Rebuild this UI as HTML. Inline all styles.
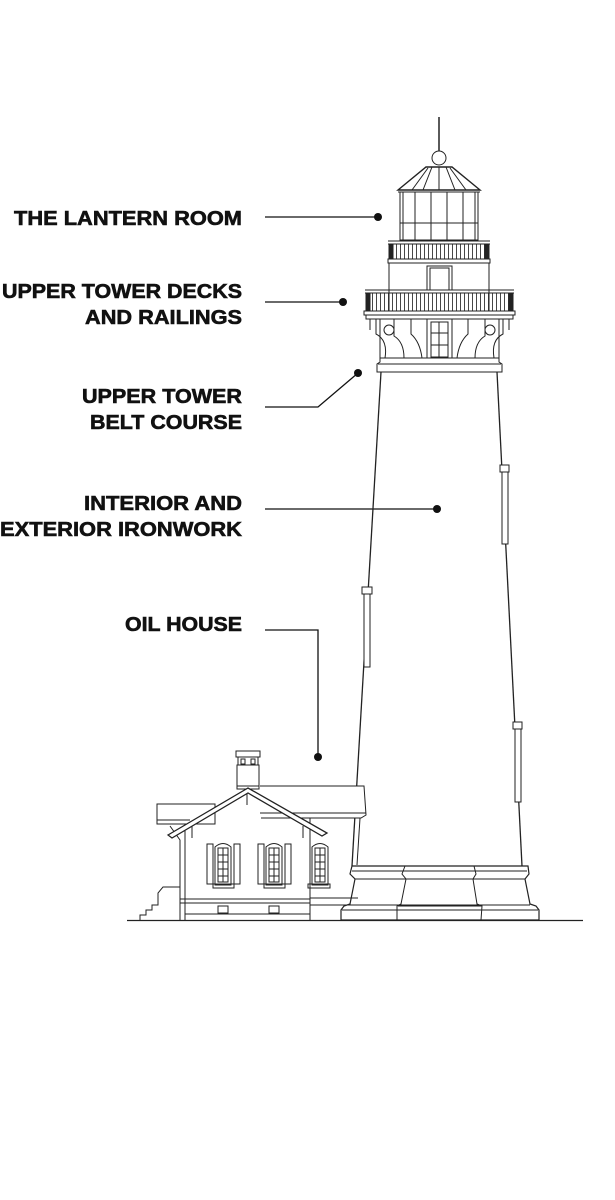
<!DOCTYPE html>
<html><head><meta charset="utf-8"><style>
html,body{margin:0;padding:0;background:#fff;}
svg{display:block;}
text{font-family:"Liberation Sans",sans-serif;font-weight:bold;font-size:20px;fill:#111;stroke:#111;stroke-width:0.6px;}
</style></head><body>
<svg width="615" height="1200" viewBox="0 0 615 1200" xmlns="http://www.w3.org/2000/svg">
<defs>
<pattern id="bal" x="0" y="0" width="4" height="10" patternUnits="userSpaceOnUse">
<rect x="0" y="0" width="0.9" height="10" fill="#333"/>
</pattern>
</defs>
<g text-anchor="end">
<text x="242" y="225" textLength="228" lengthAdjust="spacingAndGlyphs">THE LANTERN ROOM</text>
<text x="242" y="298" textLength="240" lengthAdjust="spacingAndGlyphs">UPPER TOWER DECKS</text>
<text x="242" y="324" textLength="157" lengthAdjust="spacingAndGlyphs">AND RAILINGS</text>
<text x="242" y="403" textLength="160" lengthAdjust="spacingAndGlyphs">UPPER TOWER</text>
<text x="242" y="429" textLength="152" lengthAdjust="spacingAndGlyphs">BELT COURSE</text>
<text x="242" y="510" textLength="158" lengthAdjust="spacingAndGlyphs">INTERIOR AND</text>
<text x="242" y="536" textLength="242" lengthAdjust="spacingAndGlyphs">EXTERIOR IRONWORK</text>
<text x="242" y="631" textLength="117" lengthAdjust="spacingAndGlyphs">OIL HOUSE</text>
</g>
<g stroke="#111" stroke-width="1.3" fill="none">
<line x1="265" y1="217" x2="378" y2="217"/>
<line x1="265" y1="302" x2="343" y2="302"/>
<polyline points="265,407 318,407 358,373"/>
<line x1="265" y1="509" x2="437" y2="509"/>
<polyline points="265,630 318,630 318,757"/>
</g>
<g fill="#111">
<circle cx="378" cy="217" r="4"/><circle cx="343" cy="302" r="4"/>
<circle cx="358" cy="373" r="4"/><circle cx="437" cy="509" r="4"/>
<circle cx="318" cy="757" r="4"/>
</g>
<g stroke="#222" stroke-width="1" fill="none">
<line x1="439" y1="117" x2="439" y2="151" stroke-width="1.5"/>
<circle cx="439" cy="158" r="7" fill="#fff"/>
<polygon points="426,167 452,167 480,190 398,190" fill="#fff" stroke-width="1.4"/>
<line x1="398" y1="192" x2="480" y2="192"/>
<line x1="432" y1="167" x2="423" y2="190"/><line x1="439" y1="167" x2="439" y2="190"/><line x1="446" y1="167" x2="455" y2="190"/>
<line x1="428" y1="168" x2="412" y2="190"/><line x1="450" y1="168" x2="466" y2="190"/>
<rect x="400" y="192" width="78" height="48"/>
<line x1="403" y1="192" x2="403" y2="240"/><line x1="415" y1="192" x2="415" y2="240"/><line x1="431" y1="192" x2="431" y2="240"/><line x1="447" y1="192" x2="447" y2="240"/><line x1="463" y1="192" x2="463" y2="240"/><line x1="475" y1="192" x2="475" y2="240"/>
<line x1="400" y1="223" x2="478" y2="223"/>
<rect x="389" y="244" width="100" height="15" fill="url(#bal)" stroke="none"/>
<rect x="389" y="244" width="4" height="15" fill="#222"/><rect x="485" y="244" width="4" height="15" fill="#222"/>
<line x1="388" y1="241" x2="490" y2="241"/><line x1="388" y1="244" x2="490" y2="244"/>
<rect x="388" y="259" width="102" height="4" fill="#fff"/>
<line x1="389" y1="263" x2="389" y2="312"/><line x1="489" y1="263" x2="489" y2="312"/>
<rect x="427" y="266" width="25" height="24"/><rect x="430" y="268" width="19" height="22"/>
<rect x="366" y="293" width="147" height="18" fill="url(#bal)" stroke="none"/>
<rect x="366" y="293" width="4" height="18" fill="#222"/><rect x="509" y="293" width="4" height="18" fill="#222"/>
<line x1="365" y1="290" x2="514" y2="290"/><line x1="365" y1="293" x2="514" y2="293"/>
<rect x="364" y="311" width="151" height="4" fill="#fff"/>
<rect x="366" y="315" width="147" height="4" fill="#fff"/>
<line x1="370" y1="319" x2="370" y2="330"/><line x1="509" y1="319" x2="509" y2="330"/>
<path d="M376,319 L376,334 Q388,340 385,358 M394,319 L394,336 Q404,342 404,358 M411,319 L411,334 Q420,342 422,358"/>
<path d="M503,319 L503,334 Q491,340 494,358 M485,319 L485,336 Q475,342 475,358 M468,319 L468,334 Q459,342 457,358"/>
<circle cx="389" cy="330" r="5"/><circle cx="490" cy="330" r="5"/>
<line x1="380" y1="319" x2="380" y2="358"/><line x1="499" y1="319" x2="499" y2="358"/>
<rect x="427" y="319" width="25" height="39"/><rect x="431" y="322" width="17" height="35"/>
<line x1="439" y1="322" x2="439" y2="357"/><line x1="431" y1="333" x2="448" y2="333"/><line x1="431" y1="345" x2="448" y2="345"/>
<path d="M380,358 L499,358 L499,362 L502,364 L502,372 L377,372 L377,364 L380,362 Z" fill="#fff"/>
<line x1="378" y1="364" x2="501" y2="364"/>
<line x1="381" y1="372" x2="352" y2="866" stroke-width="1.3"/>
<line x1="497" y1="372" x2="522" y2="866" stroke-width="1.3"/>
<rect x="500" y="465" width="9" height="7" fill="#fff"/><rect x="502" y="472" width="6" height="72" fill="#fff"/>
<rect x="362" y="587" width="10" height="7" fill="#fff"/><rect x="364" y="594" width="6" height="73" fill="#fff"/>
<rect x="513" y="722" width="9" height="7" fill="#fff"/><rect x="515" y="729" width="6" height="73" fill="#fff"/>
<path d="M352,866 L528,866 L529,874 L525,879 L530,904 L536,906 L539,910 L539,920 L341,920 L341,910 L344,906 L350,904 L355,879 L350,874 Z" fill="#fff" stroke-width="1.2"/>
<line x1="352" y1="871" x2="527" y2="871"/>
<line x1="355" y1="879" x2="525" y2="879"/>
<line x1="342" y1="910" x2="538" y2="910"/>
<line x1="350" y1="905" x2="530" y2="905"/>
<path d="M405,866 L402,874 L406,879 L401,904 L397,906 L397,920"/>
<path d="M474,866 L476,874 L473,879 L477,904 L482,906 L481,920"/>
<line x1="398" y1="906" x2="482" y2="906"/>
<rect x="236" y="751" width="24" height="6" fill="#fff"/>
<rect x="238" y="757" width="20" height="8" fill="#fff"/>
<rect x="241" y="759" width="4" height="5"/><rect x="251" y="759" width="4" height="5"/>
<rect x="237" y="765" width="22" height="24" fill="#fff"/>
<line x1="237" y1="786" x2="259" y2="786"/>
<path d="M260,786 L364,786 L366,815 L361,818 L261,818" fill="#fff"/>
<line x1="260" y1="813" x2="366" y2="813"/>
<line x1="360" y1="818" x2="357" y2="865"/>
<line x1="310" y1="818" x2="310" y2="920"/>
<path d="M157,804 L215,804 L215,824 L157,824 Z" fill="#fff"/>
<line x1="157" y1="820" x2="190" y2="820"/>
<path d="M170,826 L180,840 L180,920"/>
<path d="M168,835 L248,788 L327,833 L322,836 L248,793 L172,838 Z" fill="#fff" stroke-width="1.3"/>
<line x1="185" y1="830" x2="185" y2="920"/><line x1="310" y1="830" x2="310" y2="920"/>
<line x1="247" y1="794" x2="247" y2="805"/>
<line x1="192" y1="826" x2="192" y2="838"/><line x1="303" y1="826" x2="303" y2="838"/>
<g>
<rect x="207" y="844" width="6" height="40"/><rect x="234" y="844" width="6" height="40"/>
<path d="M215,885 L215,847 Q223,840 231,847 L231,885 Z"/><rect x="218" y="848" width="10" height="34"/>
<line x1="223" y1="848" x2="223" y2="882"/><line x1="218" y1="855" x2="228" y2="855"/><line x1="218" y1="862" x2="228" y2="862"/><line x1="218" y1="869" x2="228" y2="869"/><line x1="218" y1="876" x2="228" y2="876"/>
<rect x="213" y="884" width="21" height="4"/>
</g>
<g transform="translate(51,0)">
<rect x="207" y="844" width="6" height="40"/><rect x="234" y="844" width="6" height="40"/>
<path d="M215,885 L215,847 Q223,840 231,847 L231,885 Z"/><rect x="218" y="848" width="10" height="34"/>
<line x1="223" y1="848" x2="223" y2="882"/><line x1="218" y1="855" x2="228" y2="855"/><line x1="218" y1="862" x2="228" y2="862"/><line x1="218" y1="869" x2="228" y2="869"/><line x1="218" y1="876" x2="228" y2="876"/>
<rect x="213" y="884" width="21" height="4"/>
</g>
<g transform="translate(97,0)">
<path d="M215,885 L215,847 Q223,840 231,847 L231,885 Z"/><rect x="218" y="848" width="10" height="34"/>
<line x1="223" y1="848" x2="223" y2="882"/><line x1="218" y1="855" x2="228" y2="855"/><line x1="218" y1="862" x2="228" y2="862"/><line x1="218" y1="869" x2="228" y2="869"/><line x1="218" y1="876" x2="228" y2="876"/>
<rect x="211" y="884" width="22" height="4"/>
</g>
<line x1="180" y1="899" x2="310" y2="899"/><line x1="180" y1="903" x2="310" y2="903"/>
<line x1="185" y1="914" x2="310" y2="914"/>
<line x1="310" y1="898" x2="358" y2="898"/><line x1="310" y1="905" x2="350" y2="905"/>
<rect x="218" y="906" width="10" height="7"/><rect x="269" y="906" width="10" height="7"/>
<path d="M140,920 L140,915 L146,915 L146,910 L152,910 L152,905 L158,905 L158,893 L163,887 L180,887"/>
<line x1="127" y1="920.5" x2="583" y2="920.5" stroke-width="1.3"/>
</g>
</svg>
</body></html>
